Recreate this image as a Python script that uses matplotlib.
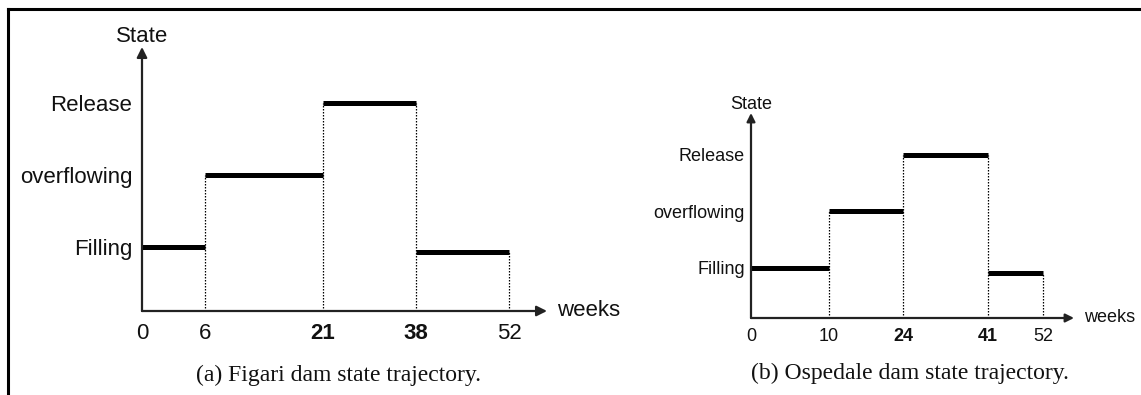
import matplotlib
matplotlib.use("Agg")
import matplotlib.pyplot as plt
from matplotlib.lines import Line2D
from matplotlib.ticker import FixedLocator, NullLocator
import numpy as np

# state trajectories (weeks where the state changes, state level of each segment)
state_names = ["Filling", "overflowing", "Release"]
state_ticks = [1, 2, 3]

figari_weeks = [0, 6, 21, 38, 52]
figari_states = [1, 2, 3, 0.93]      # last segment is drawn a bit lower in the sketch
figari_bold = [21, 38]

ospedale_weeks = [0, 10, 24, 41, 52]
ospedale_states = [1, 2, 3, 0.91]
ospedale_bold = [24, 41]

captions = ["(a) Figari dam state trajectory.", "(b) Ospedale dam state trajectory."]

# the sketch has uneven week spacing -> piecewise scale (week -> pixel)
figari_knots = ([0, 6, 21, 38, 52, 56], [142, 205, 323, 415.5, 509, 547])
ospedale_knots = ([0, 10, 24, 41, 52, 56], [751, 829, 903, 988, 1043, 1074])

W, H = 1141, 395
fig = plt.figure(figsize=(W / 100, H / 100), dpi=100)

sans = "Liberation Sans"
serif = "Liberation Serif"


def draw_panel(rect, weeks, states, bold, knots, fs, ypad, top):
    ax = fig.add_axes(rect)
    kw, kp = knots
    fwd = lambda x: np.interp(x, kw, kp)
    inv = lambda p: np.interp(p, kp, kw)
    ax.set_xscale("function", functions=(fwd, inv))
    ax.set_xlim(0, kw[-1])
    ax.set_ylim(0.112, top)
    for s in ax.spines.values():
        s.set_visible(False)

    # axes with arrows
    arr = dict(arrowstyle="-|>", color="#222222", lw=1.6, shrinkA=0, shrinkB=0,
               mutation_scale=fs * 0.95)
    ax.annotate("", xy=(1, 0), xytext=(0, 0), xycoords="axes fraction", arrowprops=arr)
    ax.annotate("", xy=(0, 1), xytext=(0, 0), xycoords="axes fraction", arrowprops=arr)

    # state segments
    for i, lev in enumerate(states):
        ax.plot([weeks[i], weeks[i + 1]], [lev, lev], color="black", lw=3.6,
                solid_capstyle="butt")
    # dotted transitions
    for i in range(1, len(weeks)):
        if i < len(states):
            h = max(states[i - 1], states[i])
        else:
            h = states[-1]
        ax.plot([weeks[i], weeks[i]], [0.112, h], color="black", lw=0.9, ls=(0, (1.2, 1.2)))

    ax.xaxis.set_major_locator(FixedLocator(weeks))
    ax.xaxis.set_minor_locator(NullLocator())
    ax.set_xticklabels([str(w) for w in weeks])
    for lab, w in zip(ax.get_xticklabels(), weeks):
        lab.set_fontfamily(sans)
        lab.set_fontsize(fs)
        if w in bold:
            lab.set_fontweight("bold")
    ax.set_yticks(state_ticks)
    ax.set_yticklabels(state_names, fontfamily=sans, fontsize=fs)
    ax.tick_params(axis="x", length=0, pad=fs * 0.55, colors="#111111")
    ax.tick_params(axis="y", length=0, pad=ypad, colors="#111111")

    ax.text(0, 1, "State", transform=ax.transAxes, ha="center", va="bottom",
            fontfamily=sans, fontsize=fs, color="#111111")
    ax.annotate("weeks", xy=(1, 0), xycoords="axes fraction", xytext=(7, 0),
                textcoords="offset points", ha="left", va="center",
                fontfamily=sans, fontsize=fs, color="#111111")
    return ax


draw_panel([142 / W, (H - 311) / H, (547 - 142) / W, (311 - 47) / H],
           figari_weeks, figari_states, figari_bold, figari_knots, 16, 7, 3.78)
draw_panel([751 / W, (H - 318) / H, (1074 - 751) / W, (318 - 113) / H],
           ospedale_weeks, ospedale_states, ospedale_bold, ospedale_knots, 13, 4.5, 3.74)

fig.text(339 / W, 1 - 375 / H, captions[0], ha="center", va="center",
         fontfamily=serif, fontsize=17, color="#111111")
fig.text(910 / W, 1 - 373 / H, captions[1], ha="center", va="center",
         fontfamily=serif, fontsize=17, color="#111111")

# page frame (left and top edges)
fig.add_artist(Line2D([8 / W, 8 / W], [0, 1 - 8.5 / H], color="black", lw=2.2,
                      transform=fig.transFigure, solid_capstyle="projecting"))
fig.add_artist(Line2D([8 / W, 1], [1 - 8.5 / H, 1 - 8.5 / H], color="black", lw=2.2,
                      transform=fig.transFigure, solid_capstyle="projecting"))

fig.savefig("out.png", dpi=100)
